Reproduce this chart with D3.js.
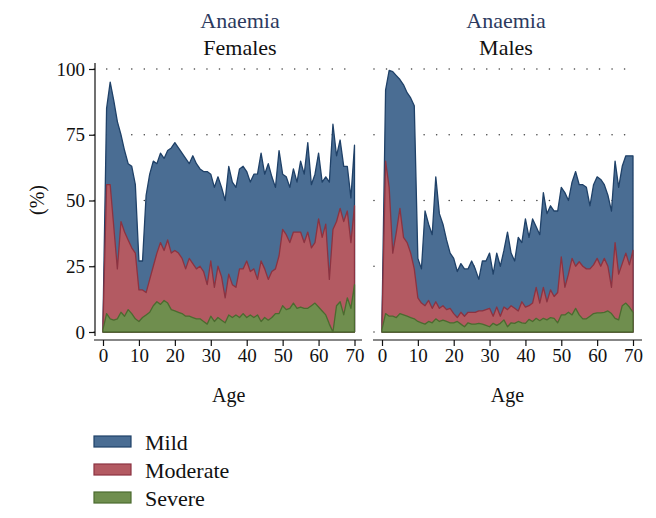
<!DOCTYPE html>
<html>
<head>
<meta charset="utf-8">
<script src="https://cdn.jsdelivr.net/npm/d3@7"></script>
<style>
  body { margin: 0; background: #fff; }
  text { font-family: "Liberation Serif", "Times New Roman", serif; fill: #111; }
</style>
</head>
<body>
<svg width="656" height="518"></svg>
<script>
// ages 0..70 on the x axis
var ages = d3.range(0, 71);

// % anaemic (any level) = top of the blue area
var femAny = [4,85,95,88,80,75,69,64,63,56, 27,27,52,60,65,64,68,66,69,70,
  72,70,68,66,64,67,64,62,61,61, 60,55,59,55,50,63,57,55,62,63,
  61,57,60,60,68,60,64,59,55,69, 60,59,55,62,57,65,60,72,56,60,
  68,57,59,57,79,67,73,63,63,51, 71];
// % moderate or severe = top of the red area
var femModSev = [3,56,56,40,24,42,38,35,32,30, 16,16,15,20,25,30,34,31,35,30,
  31,30,28,24,28,26,24,25,23,18, 27,17,25,21,13,22,18,17,24,24,
  27,23,24,20,27,24,20,23,24,29, 39,37,34,38,38,38,34,38,32,34,
  43,36,41,20,39,42,47,42,46,34, 48];
// % severe
var femSevere = [1,7,5,4.5,5,7.5,6,8.5,7,5, 4,5.5,6.5,7.5,10,11.5,10.5,12,11,8.5,
  8,7.5,7,6,6,5.5,5,5,4,3, 6,4,5.5,4.5,3.5,6.5,5.5,6.5,5.5,7,
  5.5,6.5,5.5,6.5,4,5.5,4.5,5.5,7,7, 10,8.5,9,11,9,9.5,9,9,10,11,
  9.5,8,6.5,3,0,10,11.5,6.5,13,9, 18];

var maleAny = [5,92,99.5,99,97.5,96,94,91,89,86, 28,24,46,41,37,59,45,41,35,30,
  28,23,26,24,24,27,24,20,27,27, 30,22,30,25,31,38,30,27,36,34,
  43,36,43,40,37,53,45,48,46,46, 55,53,50,57,61,56,56,55,48,56,
  59,58,56,52,46,65,55,63,67,67, 67];
var maleModSev = [3,65,55,30,38,47,36,34,30,24, 13,11,10,12,9,11.5,9,10,8.5,9,
  7,5.5,7.5,6,7.5,7.5,7.5,8,8,8.5, 9,6,9.5,6,9.5,8.5,10,9,8,11.5,
  9.5,10,11,17,11,17,11.5,16,13.5,15, 28.6,17,22,28,25,26.7,25,24,24,25.5,
  28,25,28,25,17,34,22,26,30,25.5, 31];
var maleSevere = [1,7,6,6,5.5,7,6.5,6,5.5,5, 4,3.5,3,4,3.5,5,4,4.5,4,3.5,
  3.5,4,3,2,3.5,3,3,3.3,3,2.5, 2,3.3,2.5,3.3,4.6,2,3.5,3.3,4,3.5,
  3.3,4.8,4,5.2,4.3,5.2,4.6,5.5,5.2,3.5, 6.5,6.5,7.5,6.5,9,6.5,5,5,6,7,
  7.3,7.3,7.5,8,7,5.2,4.6,10,11,9.5, 7.5];

var levels = ["Mild", "Moderate", "Severe"];
var yTicks = [0, 25, 50, 75, 100];
var xTicks = [0, 10, 20, 30, 40, 50, 60, 70];

var fills   = ["#4a6d93", "#b35a62", "#6f8e4e"];
var strokes = ["#1f4168", "#8c3341", "#4b6b2f"];

var svg = d3.select("svg");

var panels = [
  { title: "Females", series: [femAny, femModSev, femSevere],
    range: [103, 354.5], grid: [94.2, 357.3], axis: [94, 362], titleX: 240, yAxis: true },
  { title: "Males", series: [maleAny, maleModSev, maleSevere],
    range: [382, 633], grid: [374, 636.7], axis: [373, 642], titleX: 506, yAxis: false }
];

var y = d3.scaleLinear().domain([0, 100]).range([332, 69]);

panels.forEach(function(p) {
  var x = d3.scaleLinear().domain([0, 70]).range(p.range);
  var g = svg.append("g");

  // dotted grid
  g.selectAll(".grid").data(yTicks).enter().append("line")
    .attr("x1", p.grid[0]).attr("x2", p.grid[1])
    .attr("y1", function(d) { return y(d); }).attr("y2", function(d) { return y(d); })
    .attr("stroke", "#444").attr("stroke-width", 1.6)
    .attr("stroke-linecap", "round").attr("stroke-dasharray", "0,12.53");

  // areas, drawn one over another
  p.series.forEach(function(vals, i) {
    var area = d3.area()
      .x(function(d, j) { return x(ages[j]); })
      .y0(y(0))
      .y1(function(d) { return y(d); });
    g.append("path")
      .datum(vals)
      .attr("d", area)
      .attr("fill", fills[i])
      .attr("stroke", strokes[i])
      .attr("stroke-width", 1.3)
      .attr("stroke-linejoin", "round");
  });

  // x axis
  var xa = g.append("g").attr("transform", "translate(0,340)")
    .call(d3.axisBottom(x).tickValues(xTicks).tickSize(6).tickPadding(3));
  xa.select(".domain").remove();
  xa.selectAll("line").attr("stroke", "#111").attr("stroke-width", 1.2);
  xa.selectAll("text").style("font-size", "19px").style("font-family", "Liberation Serif").attr("fill", "#111");
  g.append("line").attr("x1", p.axis[0]).attr("x2", p.axis[1]).attr("y1", 340).attr("y2", 340)
    .attr("stroke", "#111").attr("stroke-width", 1.2);

  g.append("text").attr("x", (p.range[0] + p.range[1]) / 2).attr("y", 402)
    .attr("text-anchor", "middle").style("font-size", "20px").text("Age");

  // titles
  g.append("text").attr("x", p.titleX).attr("y", 28).attr("text-anchor", "middle")
    .style("font-size", "22px").style("fill", "#2d3a5e").text("Anaemia");
  g.append("text").attr("x", p.titleX).attr("y", 55).attr("text-anchor", "middle")
    .style("font-size", "22px").text(p.title);

  if (p.yAxis) {
    var ya = g.append("g").attr("transform", "translate(95,0)")
      .call(d3.axisLeft(y).tickValues(yTicks).tickSize(6).tickPadding(4));
    ya.select(".domain").remove();
    ya.selectAll("line").attr("stroke", "#111").attr("stroke-width", 1.2);
    ya.selectAll("text").style("font-size", "19px").style("font-family", "Liberation Serif").attr("fill", "#111");
    g.append("line").attr("x1", 95).attr("x2", 95).attr("y1", 63).attr("y2", 336)
      .attr("stroke", "#111").attr("stroke-width", 1.2);
    g.append("text").attr("transform", "translate(44,200) rotate(-90)")
      .attr("text-anchor", "middle").style("font-size", "20px").text("(%)");
  }
});

// legend
var leg = svg.append("g").selectAll("g").data(levels).enter().append("g")
  .attr("transform", function(d, i) { return "translate(94," + (436 + i * 28) + ")"; });
leg.append("rect").attr("width", 37).attr("height", 11)
  .attr("fill", function(d, i) { return fills[i]; })
  .attr("stroke", function(d, i) { return strokes[i]; }).attr("stroke-width", 1.2);
leg.append("text").attr("x", 51).attr("y", 14).style("font-size", "22px")
  .text(function(d) { return d; });
</script>
</body>
</html>
